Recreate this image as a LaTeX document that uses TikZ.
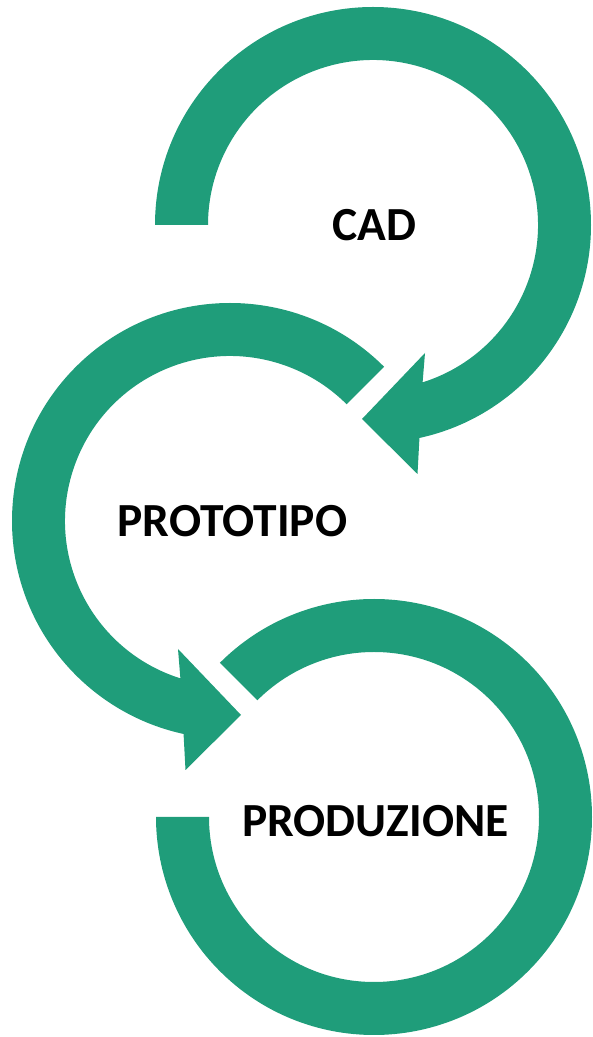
\documentclass[tikz,border=0pt]{standalone}
\usepackage{fontspec}
\setmainfont{Carlito}
\usetikzlibrary{calc}
\definecolor{arrowgreen}{RGB}{31,157,122}
\tikzset{
  band/.style={fill=arrowgreen, draw=none},
  steplabel/.style={anchor=base, inner sep=0pt, text=black,
    font=\fontsize{47.5}{52}\selectfont\bfseries}
}
\begin{document}
\begin{tikzpicture}[x=1pt,y=1pt]
\useasboundingbox (0,0) rectangle (593,1037);
% centres of the three ring arrows
\coordinate (c1) at (373,812);
\coordinate (c2) at (230,516);
\coordinate (c3) at (374,220);
% CAD: clockwise ring from the left end to an arrowhead at the bottom
\fill[band] ($(c1)+(180:218)$) arc[start angle=180, end angle=-77.7, radius=218]
  -- ($(c1)+(44.5,-249)$) -- ($(c1)+(-11,-194)$) -- ($(c1)+(52,-128)$)
  -- ($(c1)+(-72.5:165)$) arc[start angle=-72.5, end angle=180, radius=165] -- cycle;
% PROTOTIPO: counter-clockwise ring from the upper right to an arrowhead at the bottom
\fill[band] ($(c2)+(45:218)$) arc[start angle=45, end angle=257.7, radius=218]
  -- ($(c2)+(-44.5,-249)$) -- ($(c2)+(11,-194)$) -- ($(c2)+(-52,-128)$)
  -- ($(c2)+(252.5:165)$) arc[start angle=252.5, end angle=45, radius=165] -- cycle;
% PRODUZIONE: open ring without a head
\fill[band] ($(c3)+(135:218)$) arc[start angle=135, end angle=-180, radius=218]
  -- ($(c3)+(180:165)$) arc[start angle=-180, end angle=135, radius=165] -- cycle;
% labels
\node[steplabel] (cad) at (374.5,796) {CAD};
\node[steplabel] (proto) at (232.5,500) {PROTOTIPO};
\node[steplabel] (prod) at (375.5,200.5) {PRODUZIONE};
\end{tikzpicture}
\end{document}
